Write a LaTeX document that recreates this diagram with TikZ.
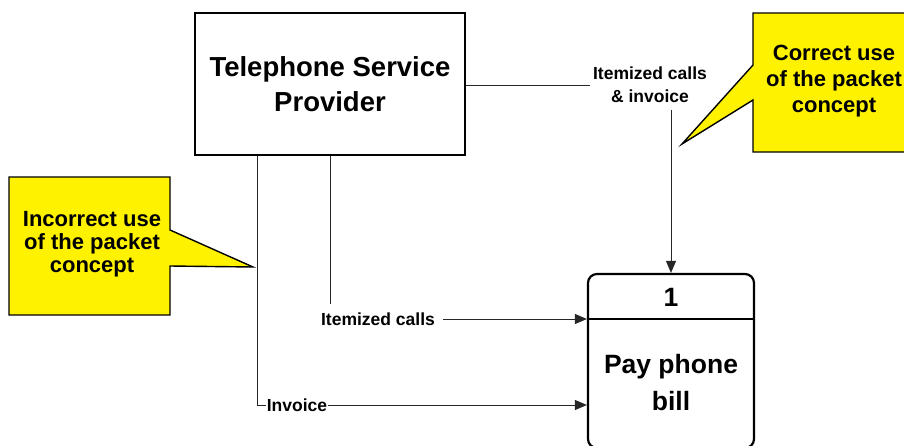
\documentclass[tikz,border=0pt]{standalone}
\usepackage{fontspec}
\setmainfont{Liberation Sans}
\usetikzlibrary{arrows.meta}
\begin{document}
\begin{tikzpicture}[x=1pt,y=-1pt,
  bigbox/.style={draw=black,line width=2.2pt,fill=white,inner sep=0pt,align=center,
     font=\bfseries\fontsize{27.5}{35}\selectfont},
  flowlabel/.style={inner sep=0pt,align=center,font=\bfseries\fontsize{17.5}{23}\selectfont},
  calltext/.style={inner sep=0pt,align=center,font=\bfseries\fontsize{22}{23}\selectfont},
  callout/.style={draw=black,line width=1.4pt,fill=yellow},
  flow/.style={draw=black!85,line width=0.9pt},
  flowarrow/.style={flow,-{Triangle[length=12pt,width=10pt]}}
]
\useasboundingbox (0,0) rectangle (904,445);
% callouts
\draw[callout] (9,177) -- (170,177) -- (170,230) -- (253,267) -- (170,266) -- (170,315) -- (9,315) -- cycle;
\draw[callout] (753,13) -- (925,13) -- (925,152) -- (753,152) -- (753,100) -- (682,144) -- (753,65) -- cycle;
\node[calltext] (ct1) at (92,244) {Incorrect use\\of the packet\\concept};
\node[calltext,font=\bfseries\fontsize{22}{26}\selectfont] (ct2) at (834,81) {Correct use\\of the packet\\concept};
% boxes
\node[bigbox,minimum width=270pt,minimum height=142pt] (tsp) at (330,84) {Telephone Service\\Provider};
\node[bigbox,rounded corners=9pt,minimum width=166pt,minimum height=174pt] (pp) at (671,361) {};
\draw[line width=2.2pt] (pp.west |- 0,319) -- (pp.east |- 0,319);
\node[inner sep=0pt,font=\bfseries\fontsize{26.5}{35}\selectfont] (num) at (671,297) {1};
\node[inner sep=0pt,align=center,font=\bfseries\fontsize{26.5}{37}\selectfont] (ppt) at (671,383) {Pay phone\\bill};
% labels
\node[flowlabel] (lab1) at (650,85) {Itemized calls\\\& invoice};
\node[flowlabel] (lab2) at (378,319) {Itemized calls};
\node[flowlabel] (lab3) at (297,405) {Invoice};
\coordinate (c1) at (671,110);
\coordinate (c2) at (330,304);
\coordinate (c3) at (257,405);
% connectors
\draw[flow] (tsp.east |- lab1) -- ([xshift=-3pt]lab1.west);
\draw[flowarrow] (c1) -- (pp.north -| c1);
\draw[flow] (tsp.south -| c2) -- (c2);
\draw[flowarrow] ([xshift=8pt]lab2.east) -- (pp.west |- lab2);
\draw[flow] (tsp.south -| c3) -- (c3) -- ([xshift=-1pt]lab3.west);
\draw[flowarrow] ([xshift=1pt]lab3.east) -- (pp.west |- lab3);
\end{tikzpicture}
\end{document}
